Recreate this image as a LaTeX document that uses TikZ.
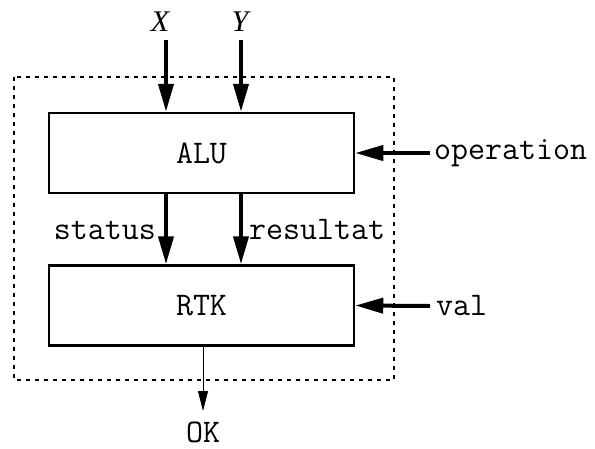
\documentclass[tikz,border=0pt]{standalone}
\usepackage{fontspec}
\setmainfont{Liberation Serif}
\usetikzlibrary{arrows.meta}
\begin{document}
\begin{tikzpicture}[x=1pt,y=-1pt,
  blk/.style={draw,line width=2.5pt,minimum width=305pt,minimum height=80pt,inner sep=0pt,font=\fontsize{33}{38}\selectfont\ttfamily},
  lbl/.style={inner sep=0pt,font=\fontsize{33}{38}\selectfont\ttfamily},
  vlbl/.style={inner sep=0pt,font=\fontsize{30}{36}\selectfont\itshape},
  bigarr/.style={line width=4pt,-{Triangle[length=28pt,width=15pt]}},
  thinarr/.style={line width=1pt,-{Triangle[length=20pt,width=10pt]}},
  frame/.style={draw,line width=1.5pt,dash pattern=on 4pt off 5pt}]
\useasboundingbox (0,0) rectangle (595,448);
\draw[frame] (14,77) rectangle (394,380);
\node[blk] (alu) at (201.5,153) {ALU};
\node[blk] (rtk) at (201.5,305.5) {RTK};
\node[vlbl] (x) at (160,22) {X};
\node[vlbl] (y) at (240,22) {Y};
\coordinate (xs) at (166,40);
\coordinate (ys) at (241,40);
\draw[bigarr] (xs) -- (xs |- alu.north);
\draw[bigarr] (ys) -- (ys |- alu.north);
\coordinate (st) at (166,193);
\coordinate (rs) at (241,193);
\draw[bigarr] (st |- alu.south) -- (st |- rtk.north);
\draw[bigarr] (rs |- alu.south) -- (rs |- rtk.north);
\node[lbl,anchor=east] (status) at (156,230) {status};
\node[lbl,anchor=west] (res) at (249,230) {resultat};
\node[lbl,anchor=west] (op) at (434,153) {operation};
\node[lbl,anchor=west] (val) at (436,306) {val};
\draw[bigarr] (op.west) ++(-4,0) -- (alu.east);
\draw[bigarr] (val.west) ++(-6,0) -- (rtk.east);
\node[lbl] (ok) at (203,432) {OK};
\coordinate (okt) at (203,411);
\draw[thinarr] (okt |- rtk.south) -- (okt);
\end{tikzpicture}
\end{document}
